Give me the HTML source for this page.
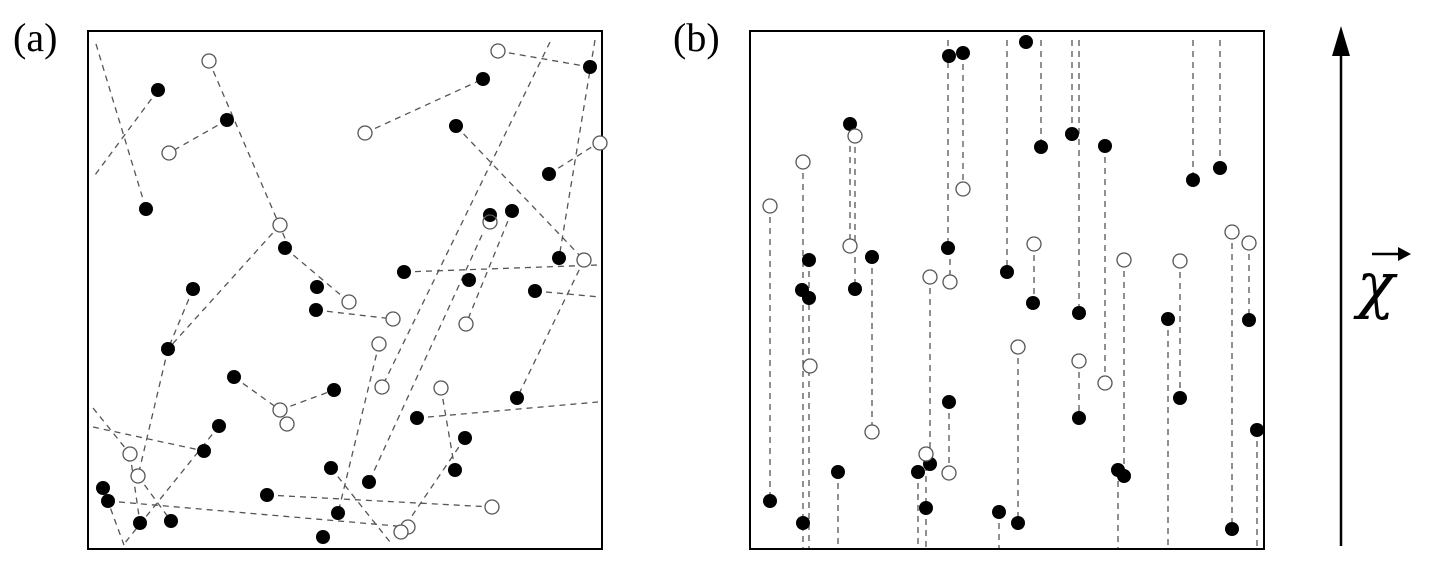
<!DOCTYPE html>
<html><head><meta charset="utf-8"><style>
html,body{margin:0;padding:0;background:#fff;width:1430px;height:564px;overflow:hidden}
</style></head><body>
<svg width="1430" height="564" viewBox="0 0 1430 564" xmlns="http://www.w3.org/2000/svg">
<text x="13" y="51" font-family="Liberation Serif, serif" font-size="40">(a)</text>
<text x="673" y="51" font-family="Liberation Serif, serif" font-size="40">(b)</text>
<rect x="88" y="31" width="514" height="518" fill="none" stroke="#000" stroke-width="2"/>
<rect x="750" y="31" width="514" height="518" fill="none" stroke="#000" stroke-width="2"/>
<g stroke="#555" stroke-width="1.3" stroke-dasharray="6,5" fill="none">
<line x1="96" y1="44" x2="146" y2="209"/><line x1="158" y1="90" x2="95" y2="175"/>
<line x1="227" y1="120" x2="169" y2="153"/><line x1="209" y1="61" x2="287" y2="243"/>
<line x1="285" y1="248" x2="349" y2="302"/><line x1="280" y1="225" x2="168" y2="349"/>
<line x1="193" y1="289" x2="168" y2="349"/><line x1="168" y1="349" x2="138" y2="476"/>
<line x1="365" y1="133" x2="483" y2="79"/><line x1="498" y1="51" x2="590" y2="67"/>
<line x1="456" y1="126" x2="584" y2="260"/><line x1="549" y1="174" x2="598" y2="143"/>
<line x1="550" y1="42" x2="382" y2="387"/><line x1="595" y1="40" x2="559" y2="258"/>
<line x1="512" y1="211" x2="466" y2="324"/><line x1="404" y1="272" x2="598" y2="265"/>
<line x1="584" y1="260" x2="517" y2="398"/><line x1="535" y1="291" x2="600" y2="297"/>
<line x1="316" y1="310" x2="393" y2="319"/><line x1="379" y1="344" x2="338" y2="513"/>
<line x1="482" y1="235" x2="369" y2="482"/><line x1="234" y1="377" x2="280" y2="410"/>
<line x1="280" y1="410" x2="334" y2="390"/><line x1="417" y1="418" x2="598" y2="402"/>
<line x1="441" y1="388" x2="455" y2="470"/><line x1="465" y1="438" x2="401" y2="532"/>
<line x1="219" y1="426" x2="124" y2="544"/><line x1="93" y1="427" x2="204" y2="451"/>
<line x1="93" y1="408" x2="130" y2="454"/><line x1="138" y1="476" x2="171" y2="521"/>
<line x1="103" y1="488" x2="124" y2="545"/><line x1="108" y1="501" x2="408" y2="527"/>
<line x1="267" y1="495" x2="492" y2="507"/><line x1="331" y1="468" x2="390" y2="542"/>
<line x1="130" y1="454" x2="140" y2="523"/>
<line x1="770" y1="206" x2="770" y2="501"/><line x1="803" y1="162" x2="803" y2="548"/>
<line x1="809" y1="260" x2="809" y2="548"/><line x1="850" y1="124" x2="850" y2="246"/>
<line x1="855" y1="136" x2="855" y2="289"/><line x1="872" y1="257" x2="872" y2="432"/>
<line x1="838" y1="472" x2="838" y2="548"/><line x1="948" y1="40" x2="948" y2="248"/>
<line x1="950" y1="248" x2="950" y2="282"/><line x1="963" y1="53" x2="963" y2="189"/>
<line x1="930" y1="277" x2="930" y2="464"/><line x1="918" y1="472" x2="918" y2="548"/>
<line x1="926" y1="454" x2="926" y2="508"/><line x1="949" y1="402" x2="949" y2="473"/>
<line x1="1007" y1="40" x2="1007" y2="272"/><line x1="1041" y1="40" x2="1041" y2="147"/>
<line x1="1072" y1="40" x2="1072" y2="134"/><line x1="1079" y1="40" x2="1079" y2="313"/>
<line x1="1034" y1="244" x2="1034" y2="303"/><line x1="1105" y1="146" x2="1105" y2="383"/>
<line x1="1018" y1="347" x2="1018" y2="523"/><line x1="999" y1="512" x2="999" y2="548"/>
<line x1="1079" y1="361" x2="1079" y2="418"/><line x1="1124" y1="260" x2="1124" y2="476"/>
<line x1="1118" y1="470" x2="1118" y2="548"/><line x1="1193" y1="40" x2="1193" y2="180"/>
<line x1="1220" y1="40" x2="1220" y2="168"/><line x1="1168" y1="319" x2="1168" y2="548"/>
<line x1="1180" y1="261" x2="1180" y2="398"/><line x1="1232" y1="232" x2="1232" y2="529"/>
<line x1="1249" y1="243" x2="1249" y2="320"/><line x1="1257" y1="430" x2="1257" y2="548"/>
<line x1="926" y1="508" x2="926" y2="548"/>
</g>
<g fill="#000">
<circle cx="158" cy="90" r="7"/><circle cx="146" cy="209" r="7"/><circle cx="227" cy="120" r="7"/><circle cx="483" cy="79" r="7"/><circle cx="590" cy="67" r="7"/><circle cx="456" cy="126" r="7"/><circle cx="549" cy="174" r="7"/><circle cx="490" cy="215" r="7"/><circle cx="512" cy="211" r="7"/><circle cx="285" cy="248" r="7"/><circle cx="404" cy="272" r="7"/><circle cx="469" cy="280" r="7"/><circle cx="559" cy="258" r="7"/><circle cx="535" cy="291" r="7"/><circle cx="193" cy="289" r="7"/><circle cx="317" cy="287" r="7"/><circle cx="316" cy="310" r="7"/><circle cx="168" cy="349" r="7"/><circle cx="234" cy="377" r="7"/><circle cx="334" cy="390" r="7"/><circle cx="517" cy="398" r="7"/><circle cx="417" cy="418" r="7"/><circle cx="219" cy="426" r="7"/><circle cx="204" cy="451" r="7"/><circle cx="465" cy="438" r="7"/><circle cx="455" cy="470" r="7"/><circle cx="331" cy="468" r="7"/><circle cx="369" cy="482" r="7"/><circle cx="103" cy="488" r="7"/><circle cx="108" cy="501" r="7"/><circle cx="267" cy="495" r="7"/><circle cx="140" cy="523" r="7"/><circle cx="171" cy="521" r="7"/><circle cx="338" cy="513" r="7"/><circle cx="323" cy="537" r="7"/>
<circle cx="770" cy="501" r="7"/><circle cx="803" cy="523" r="7"/><circle cx="809" cy="260" r="7"/><circle cx="802" cy="290" r="7"/><circle cx="809" cy="298" r="7"/><circle cx="850" cy="124" r="7"/><circle cx="855" cy="289" r="7"/><circle cx="872" cy="257" r="7"/><circle cx="838" cy="472" r="7"/><circle cx="949" cy="56" r="7"/><circle cx="963" cy="53" r="7"/><circle cx="948" cy="248" r="7"/><circle cx="930" cy="464" r="7"/><circle cx="918" cy="472" r="7"/><circle cx="926" cy="508" r="7"/><circle cx="949" cy="402" r="7"/><circle cx="1007" cy="272" r="7"/><circle cx="1026" cy="42" r="7"/><circle cx="1041" cy="147" r="7"/><circle cx="1072" cy="134" r="7"/><circle cx="1079" cy="313" r="7"/><circle cx="1033" cy="303" r="7"/><circle cx="1105" cy="146" r="7"/><circle cx="1018" cy="523" r="7"/><circle cx="999" cy="512" r="7"/><circle cx="1079" cy="418" r="7"/><circle cx="1124" cy="476" r="7"/><circle cx="1118" cy="470" r="7"/><circle cx="1193" cy="180" r="7"/><circle cx="1220" cy="168" r="7"/><circle cx="1168" cy="319" r="7"/><circle cx="1180" cy="398" r="7"/><circle cx="1232" cy="529" r="7"/><circle cx="1249" cy="320" r="7"/><circle cx="1257" cy="430" r="7"/>
</g>
<g fill="#fff" stroke="#555" stroke-width="1.3">
<circle cx="209" cy="61" r="7"/><circle cx="169" cy="153" r="7"/><circle cx="365" cy="133" r="7"/><circle cx="498" cy="51" r="7"/><circle cx="600" cy="143" r="7"/><circle cx="280" cy="225" r="7"/><circle cx="490" cy="222" r="7" fill="none"/><circle cx="584" cy="260" r="7"/><circle cx="349" cy="302" r="7"/><circle cx="393" cy="319" r="7"/><circle cx="466" cy="324" r="7"/><circle cx="379" cy="344" r="7"/><circle cx="382" cy="387" r="7"/><circle cx="441" cy="388" r="7"/><circle cx="280" cy="410" r="7"/><circle cx="287" cy="424" r="7"/><circle cx="130" cy="454" r="7"/><circle cx="138" cy="476" r="7"/><circle cx="492" cy="507" r="7"/><circle cx="408" cy="527" r="7"/><circle cx="401" cy="532" r="7"/>
<circle cx="770" cy="206" r="7"/><circle cx="803" cy="162" r="7"/><circle cx="810" cy="366" r="7"/><circle cx="855" cy="136" r="7"/><circle cx="850" cy="246" r="7"/><circle cx="872" cy="432" r="7"/><circle cx="963" cy="189" r="7"/><circle cx="950" cy="282" r="7"/><circle cx="930" cy="277" r="7"/><circle cx="926" cy="454" r="7"/><circle cx="949" cy="473" r="7"/><circle cx="1034" cy="244" r="7"/><circle cx="1105" cy="383" r="7"/><circle cx="1018" cy="347" r="7"/><circle cx="1079" cy="361" r="7"/><circle cx="1124" cy="260" r="7"/><circle cx="1180" cy="261" r="7"/><circle cx="1232" cy="232" r="7"/><circle cx="1249" cy="243" r="7"/>
</g>
<line x1="1341" y1="546" x2="1341" y2="50" stroke="#000" stroke-width="2.5"/>
<polygon points="1341,26 1332,56 1350,56" fill="#000"/>
<text x="1357" y="306" font-family="DejaVu Serif, serif" font-size="62" font-style="italic">χ</text>
<line x1="1372" y1="254" x2="1404" y2="254" stroke="#000" stroke-width="2.5"/>
<polygon points="1411,254 1398,247 1398,261" fill="#000"/>
</svg>
</body></html>
